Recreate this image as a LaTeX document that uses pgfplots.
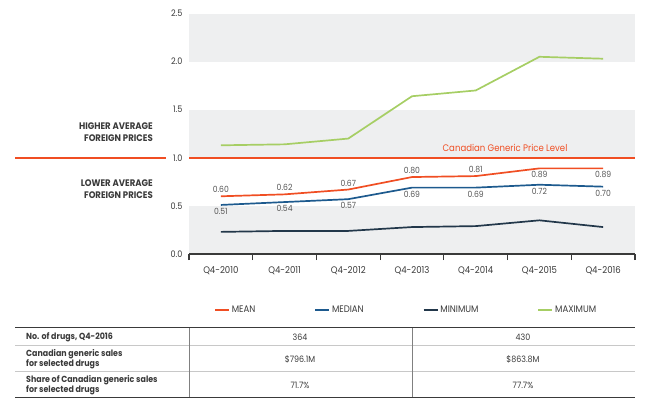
\documentclass[border=0pt]{standalone}
\usepackage{pgfplots}
\pgfplotsset{compat=1.18}
\usepackage{pgfplotstable}
\usepackage{fontspec}
\setmainfont{Poppins}[FakeStretch=0.9]

\definecolor{meanc}{HTML}{F04E23}
\definecolor{medianc}{HTML}{1D5A8E}
\definecolor{minc}{HTML}{22374A}
\definecolor{maxc}{HTML}{A6CE64}
\definecolor{bandc}{HTML}{EEEFF0}
\definecolor{textc}{HTML}{3A3A3A}
\definecolor{labc}{HTML}{555555}
\definecolor{rulec}{HTML}{C8C8C8}

\pgfplotstableread{
x mean median minimum maximum
0 0.60 0.51 0.23 1.13
1 0.62 0.54 0.24 1.14
2 0.67 0.57 0.24 1.20
3 0.80 0.69 0.28 1.64
4 0.81 0.69 0.29 1.70
5 0.89 0.72 0.35 2.05
6 0.89 0.70 0.28 2.03
}\stats

\newcommand{\fs}[1]{\fontsize{#1bp}{#1bp}\selectfont}

\begin{document}
\begin{tikzpicture}
\path (0,0) rectangle (650bp,-404bp);
\begin{axis}[
    at={(189bp,-254bp)}, anchor=south west,
    scale only axis, width=446bp, height=240.5bp,
    xmin=-0.5, xmax=6.5, ymin=0, ymax=2.5,
    clip=false, set layers,
    axis x line*=bottom, axis y line*=left,
    y axis line style={draw=none},
    x axis line style={draw=textc, line width=1.2bp, -},
    xtick={0,...,6},
    xticklabels={Q4-2010,Q4-2011,Q4-2012,Q4-2013,Q4-2014,Q4-2015,Q4-2016},
    minor xtick={-0.5,0.5,...,6.5},
    ytick={0,0.5,...,2.5},
    major tick length=0pt,
    minor tick length=6bp,
    tick align=outside,
    minor tick style={draw=textc, line width=1.2bp},
    ytick style={draw=none},
    /pgf/number format/assume math mode=true,
    yticklabel style={/pgf/number format/fixed, /pgf/number format/fixed zerofill,
        /pgf/number format/precision=1,
        /tikz/font=\fs{9}, /tikz/text=textc, /tikz/xshift=-3bp},
    xticklabel style={font=\fs{9.5}, text=textc, yshift=-9bp},
    every axis plot/.append style={line width=1.7bp},
    lab/.style={draw=none, mark=none, forget plot,
        nodes near coords={\pgfmathprintnumber[fixed,fixed zerofill,precision=2]{\pgfplotspointmeta}},
        every node near coord/.append style={font=\fs{8.5}, text=labc, inner sep=2.5bp, anchor=#1}},
    legend columns=4,
    legend style={at={(rel axis cs:0.056,-0.233)}, anchor=west, draw=none, fill=none,
        inner sep=0pt, font=\fs{9.5}, text=textc,
        /tikz/every even column/.append style={column sep=57bp}},
    legend image code/.code={\draw[#1] (0bp,0bp) -- (14bp,0bp);},
]
\begin{pgfonlayer}{axis background}
\fill[bandc] (axis cs:-0.5,0) rectangle (axis cs:6.5,0.5);
\fill[bandc] (axis cs:-0.5,1) rectangle (axis cs:6.5,1.5);
\fill[bandc] (axis cs:-0.5,2) rectangle (axis cs:6.5,2.5);
\draw[meanc, line width=2bp] (axis cs:-0.5,1) -- (axis cs:6.5,1);
\draw[meanc, line width=2bp] ([xshift=-174bp]axis cs:-0.5,1) -- ([xshift=-23bp]axis cs:-0.5,1);
\end{pgfonlayer}
\addplot[meanc, mark=none] table[x=x, y=mean] {\stats};
\addlegendentry{MEAN}
\addplot[medianc, mark=none] table[x=x, y=median] {\stats};
\addlegendentry{MEDIAN}
\addplot[minc, mark=none] table[x=x, y=minimum] {\stats};
\addlegendentry{MINIMUM}
\addplot[maxc, mark=none] table[x=x, y=maximum] {\stats};
\addlegendentry{MAXIMUM}
% value labels
\addplot[lab=south, restrict x to domain=0:4] table[x=x, y=mean] {\stats};
\addplot[lab=north, restrict x to domain=5:6] table[x=x, y=mean] {\stats};
\addplot[lab=north] table[x=x, y=median] {\stats};
\node[text=meanc, font=\fs{9.5}] at (axis cs:4.46,1) [yshift=10bp] {Canadian Generic Price Level};
\end{axis}

% side labels
\node[anchor=east, align=right, font=\bfseries\fontsize{9.5bp}{12bp}\selectfont, text=textc, inner sep=0pt]
    at (153bp,-132bp) {HIGHER AVERAGE\\FOREIGN PRICES};
\node[anchor=east, align=right, font=\bfseries\fontsize{9.5bp}{12bp}\selectfont, text=textc, inner sep=0pt]
    at (153bp,-189bp) {LOWER AVERAGE\\FOREIGN PRICES};

% table under the chart
\draw[rulec, line width=0.8bp] (15bp,-345bp) -- (635bp,-345bp);
\draw[rulec, line width=0.8bp] (15bp,-371bp) -- (635bp,-371bp);
\draw[gray, line width=0.8bp] (189bp,-327.5bp) -- (189bp,-397.5bp);
\draw[gray, line width=0.8bp] (412bp,-327.5bp) -- (412bp,-397.5bp);
\draw[textc, line width=1.6bp] (15bp,-327.5bp) -- (635bp,-327.5bp);
\draw[textc, line width=1.6bp] (15bp,-397.5bp) -- (635bp,-397.5bp);
\begin{scope}[every node/.style={text=textc, inner sep=0pt}]
\node[anchor=west, font=\bfseries\fontsize{8.8bp}{10bp}\selectfont] at (26bp,-337bp) {No. of drugs, Q4-2016};
\node[anchor=west, align=left, font=\bfseries\fontsize{8.8bp}{10bp}\selectfont] at (26bp,-359bp) {Canadian generic sales\\for selected drugs};
\node[anchor=west, align=left, font=\bfseries\fontsize{8.8bp}{10bp}\selectfont] at (26bp,-385bp) {Share of Canadian generic sales\\for selected drugs};
\node[font=\fs{8.8}] at (300bp,-337bp) {364};
\node[font=\fs{8.8}] at (523bp,-337bp) {430};
\node[font=\fs{8.8}] at (300bp,-359bp) {\$796.1M};
\node[font=\fs{8.8}] at (523bp,-359bp) {\$863.8M};
\node[font=\fs{8.8}] at (300bp,-385bp) {71.7\%};
\node[font=\fs{8.8}] at (523bp,-385bp) {77.7\%};
\end{scope}
\end{tikzpicture}
\end{document}
